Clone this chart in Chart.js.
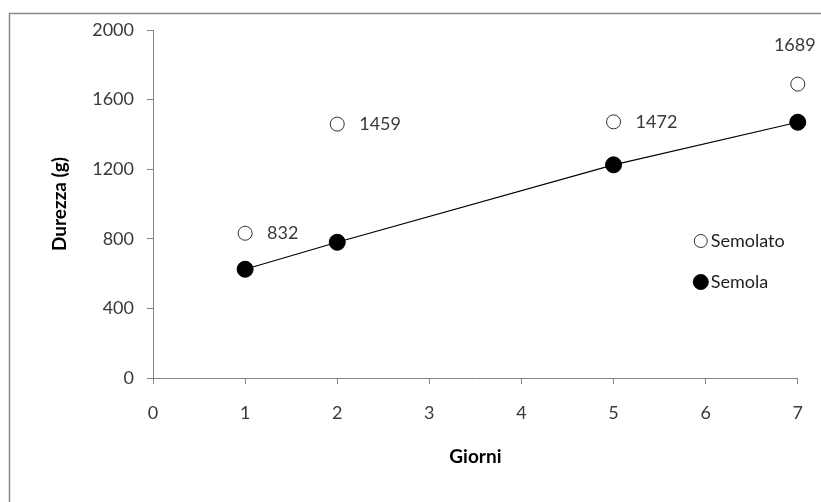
<!DOCTYPE html>
<html>
<head>
<meta charset="utf-8">
<script src="https://cdn.jsdelivr.net/npm/chart.js@4/dist/chart.umd.min.js"></script>
<style>
  html, body { margin: 0; padding: 0; background: #fff; }
  #wrap { width: 821px; height: 502px; position: relative; }
</style>
</head>
<body>
<div id="wrap"><canvas id="c"></canvas></div>
<script>
// Hardness (g) over storage days
const giorni = [1, 2, 5, 7];
const semolato = [832, 1459, 1472, 1689];
const semola = [625, 780, 1225, 1470];
const xTicks = [0, 1, 2, 3, 4, 5, 6, 7];
const yTicks = [0, 400, 800, 1200, 1600, 2000];
const seriesNames = ['Semolato', 'Semola'];

const FONT = 'Lato, "Open Sans", sans-serif';
const AXIS = '#868686';

const toPoints = (xs, ys) => xs.map((x, i) => ({ x, y: ys[i] }));

// Outer frame of the chart object
const framePlugin = {
  id: 'frame',
  beforeDraw(chart) {
    const ctx = chart.ctx;
    ctx.save();
    ctx.fillStyle = '#fff';
    ctx.fillRect(0, 0, chart.width, chart.height);
    ctx.strokeStyle = '#8a8a8a';
    ctx.lineWidth = 1.5;
    ctx.strokeRect(9.5, 13.5, chart.width + 40, chart.height + 40);
    ctx.restore();
  }
};

// Value labels for the Semolato points
const valueLabels = {
  id: 'valueLabels',
  afterDatasetsDraw(chart) {
    const ctx = chart.ctx;
    const meta = chart.getDatasetMeta(0);
    ctx.save();
    ctx.font = '18px ' + FONT;
    ctx.fillStyle = '#3a3a3a';
    ctx.textBaseline = 'middle';
    meta.data.forEach((el, i) => {
      const txt = String(semolato[i]);
      if (i === semolato.length - 1) {
        ctx.textAlign = 'center';
        ctx.fillText(txt, el.x - 3, el.y - 39);
      } else {
        ctx.textAlign = 'left';
        ctx.fillText(txt, el.x + 22, el.y);
      }
    });
    ctx.restore();
  }
};

// Legend drawn inside the plot area
const innerLegend = {
  id: 'innerLegend',
  afterDraw(chart) {
    const ctx = chart.ctx;
    const area = chart.chartArea;
    const x0 = area.right - 97;
    const rows = [area.top + 211, area.top + 252];
    const radii = [6.5, 7.5];
    ctx.save();
    ctx.font = '18px ' + FONT;
    ctx.textBaseline = 'middle';
    ctx.textAlign = 'left';
    chart.data.datasets.forEach((ds, i) => {
      const y = rows[i];
      ctx.beginPath();
      ctx.arc(x0, y, radii[i], 0, Math.PI * 2);
      ctx.fillStyle = ds.backgroundColor;
      ctx.fill();
      ctx.lineWidth = 1;
      ctx.strokeStyle = ds.pointBorderColor;
      ctx.stroke();
      ctx.fillStyle = '#1f1f1f';
      ctx.fillText(seriesNames[i], x0 + 10, y);
    });
    ctx.restore();
  }
};

new Chart(document.getElementById('c'), {
  type: 'scatter',
  data: {
    datasets: [
      {
        label: seriesNames[0],
        data: toPoints(giorni, semolato),
        showLine: false,
        pointStyle: 'circle',
        pointRadius: 7,
        backgroundColor: '#ffffff',
        pointBorderColor: '#333333',
        pointBorderWidth: 1,
        clip: false
      },
      {
        label: seriesNames[1],
        data: toPoints(giorni, semola),
        showLine: true,
        borderColor: '#000000',
        borderWidth: 1.2,
        pointStyle: 'circle',
        pointRadius: 8,
        backgroundColor: '#000000',
        pointBackgroundColor: '#000000',
        pointBorderColor: '#000000',
        pointBorderWidth: 1,
        clip: false
      }
    ]
  },
  options: {
    responsive: true,
    maintainAspectRatio: false,
    animation: false,
    layout: { padding: { left: 0, right: 14, top: 30, bottom: 0 } },
    plugins: {
      legend: { display: false },
      tooltip: { enabled: false },
      title: { display: false }
    },
    scales: {
      x: {
        type: 'linear',
        min: 0,
        max: 7,
        afterBuildTicks(scale) { scale.ticks = xTicks.map(v => ({ value: v })); },
        afterFit(scale) { scale.height = 124; },
        grid: { drawOnChartArea: false, drawTicks: true, tickLength: 6, color: AXIS },
        border: { color: AXIS, width: 1 },
        ticks: {
          padding: 18,
          color: '#3a3a3a',
          font: { family: FONT, size: 18 },
          callback: v => String(v)
        },
        title: {
          display: true,
          text: 'Giorni',
          color: '#000',
          font: { family: FONT, size: 19, weight: 'bold' },
          padding: { top: 0, bottom: 34 }
        }
      },
      y: {
        type: 'linear',
        min: 0,
        max: 2000,
        afterBuildTicks(scale) { scale.ticks = yTicks.map(v => ({ value: v })); },
        afterFit(scale) { scale.width = 153; },
        grid: { drawOnChartArea: false, drawTicks: true, tickLength: 6, color: AXIS },
        border: { color: AXIS, width: 1 },
        ticks: {
          padding: 13,
          color: '#3a3a3a',
          font: { family: FONT, size: 18 },
          callback: v => String(v)
        },
        title: {
          display: true,
          text: 'Durezza (g)',
          color: '#000',
          font: { family: FONT, size: 19, weight: 'bold' },
          padding: { top: 48, bottom: 0 }
        }
      }
    }
  },
  plugins: [framePlugin, valueLabels, innerLegend]
});
</script>
</body>
</html>
